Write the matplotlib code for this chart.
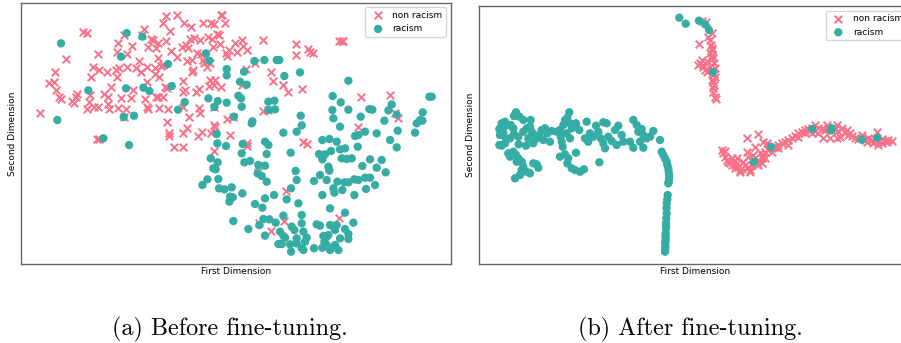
import matplotlib
matplotlib.use("Agg")
import matplotlib.pyplot as plt
import numpy as np

# t-SNE style embeddings (arbitrary units, y grows downward)
PINK = "#f77189"
TEAL = "#36ada4"

# (a) before fine-tuning
before_non_racism = np.array([
    (497, 47), (531, 44), (662, 44), (667, 44),
    (490, 70), (551, 68), (608, 70), (634, 70), (641, 72), (675, 70), (574, 82), (433, 88), (509, 93),
    (248, 97), (262, 99), (372, 105), (650, 101), (657, 105), (625, 110),
    (426, 106), (453, 117), (460, 121), (498, 122), (473, 128), (581, 114), (569, 116), (600, 120),
    (637, 118), (790, 120), (725, 120), (705, 128), (661, 132), (1018, 123), (1025, 122), (1030, 124), (355, 128),
    (887, 132), (925, 147), (730, 138), (740, 150), (686, 150), (640, 140), (545, 140), (557, 135), (565, 145),
    (512, 152), (467, 145), (444, 140), (397, 138), (294, 163), (352, 157), (382, 162), (591, 158), (604, 162),
    (710, 155), (677, 160), (682, 168), (940, 160), (930, 155), (887, 165),
    (197, 176), (418, 183), (474, 175), (562, 182), (577, 180), (609, 180), (613, 190), (484, 198), (489, 194),
    (442, 200), (531, 172), (280, 200), (296, 210), (321, 215), (347, 210), (356, 205), (380, 200), (408, 205),
    (422, 215), (466, 205), (580, 210), (577, 215), (620, 200), (630, 190), (738, 208), (765, 190), (813, 216), (166, 215),
    (273, 232), (351, 230), (466, 222), (477, 232), (440, 245), (548, 243), (630, 240), (645, 240), (628, 258),
    (662, 262), (642, 256), (820, 242), (848, 254), (863, 275), (905, 268), (148, 248), (163, 247), (500, 263),
    (496, 262), (555, 270), (548, 276), (596, 268), (588, 276), (400, 270), (334, 262), (168, 270), (727, 255),
    (177, 290), (184, 296), (230, 283), (227, 290), (270, 285), (311, 283), (325, 290), (364, 293), (392, 295),
    (436, 297), (468, 292), (475, 291), (490, 290), (216, 302), (223, 310), (268, 305), (1083, 290), (1171, 285),
    (260, 327), (283, 320), (293, 320), (323, 312), (328, 328), (353, 324), (378, 327), (441, 322), (445, 328),
    (476, 325), (505, 326), (549, 320), (598, 325), (599, 340), (643, 320), (805, 330), (788, 333), (1185, 338),
    (1195, 355), (120, 338),
    (372, 350), (500, 367), (568, 352), (682, 358), (700, 352), (560, 383), (548, 400), (507, 398), (507, 408),
    (607, 395), (595, 408), (633, 398), (643, 374), (646, 380), (1075, 382), (690, 405), (292, 417), (298, 416),
    (910, 425), (920, 432),
    (522, 441), (550, 441), (740, 430), (742, 437), (642, 453), (775, 498),
    (857, 572), (777, 668), (853, 662), (813, 692), (1018, 655),
])

before_racism = np.array([
    (183, 130), (380, 99), (427, 110), (363, 170), (504, 192), (618, 160), (628, 182), (680, 207), (680, 226),
    (265, 271), (378, 265), (430, 263), (448, 273), (515, 258), (554, 306), (534, 329), (625, 295), (653, 303),
    (680, 308), (643, 321), (702, 350), (172, 360), (371, 351), (402, 347),
    (763, 183), (793, 180), (830, 180), (838, 180), (732, 215), (853, 228), (900, 217), (1045, 242), (720, 245),
    (740, 254), (715, 287), (723, 295), (725, 320), (805, 305), (823, 302), (825, 328), (805, 330), (998, 288),
    (1022, 307), (997, 330), (1045, 329), (1108, 327), (1117, 329), (1165, 331), (1175, 313), (1288, 290),
    (1295, 290), (755, 370), (757, 364), (902, 347), (905, 376), (1000, 355), (1082, 350), (1153, 362),
    (1190, 344), (1268, 337), (1260, 360), (1267, 362), (1250, 370), (1020, 380),
    (850, 398), (890, 395), (728, 432), (795, 425), (805, 435), (800, 462), (725, 460), (733, 487), (750, 483),
    (775, 495), (795, 497), (773, 520), (785, 528), (800, 545), (872, 458), (887, 513), (890, 540), (942, 543),
    (960, 525), (980, 540), (988, 512), (985, 500), (967, 420), (988, 417), (1010, 425), (957, 462), (967, 465),
    (975, 463), (967, 478), (993, 453), (1020, 448), (1035, 445), (1025, 475), (1040, 477), (1055, 475),
    (1087, 498), (1073, 440), (1065, 408), (1075, 405), (1095, 395), (1130, 400), (1170, 420), (1193, 392),
    (1190, 442), (1245, 398), (1110, 478), (1145, 480), (1130, 503), (1157, 517), (1012, 545), (1033, 547),
    (1045, 547), (1063, 538), (1075, 540), (1095, 533), (1110, 533), (1125, 555), (1098, 567), (1063, 585),
    (1027, 570), (1000, 565), (1003, 578), (967, 585), (873, 565), (860, 598), (895, 610), (990, 625),
    (1035, 638), (1060, 668), (822, 585), (795, 595), (765, 612), (787, 623), (745, 687), (778, 675),
    (790, 657), (808, 658), (827, 668), (850, 647), (905, 645), (905, 670), (950, 673), (960, 677), (990, 675),
    (1000, 680), (1010, 675), (795, 707), (840, 695), (850, 708), (855, 713), (835, 732), (845, 732), (870, 733),
    (875, 680), (883, 690), (890, 715), (890, 730), (910, 695), (920, 713), (915, 725), (905, 745), (910, 750),
    (873, 755), (942, 745), (970, 708), (980, 710), (985, 705), (973, 725), (980, 735), (967, 743), (990, 750),
    (1005, 735), (1020, 715), (1005, 690), (1035, 687), (1045, 702), (1045, 717), (1015, 750), (727, 580),
    (310, 415), (387, 435), (650, 402), (652, 430), (678, 438), (632, 475), (653, 487), (640, 505), (647, 508),
    (622, 538), (655, 537), (607, 555), (657, 565), (673, 568), (695, 562), (690, 590), (698, 592), (688, 605),
    (700, 663),
])

# (b) after fine-tuning
after_non_racism = np.array([
    # upper strand
    (699.3, 44.3), (707.7, 36.7), (710, 40), (711, 45), (711.7, 50), (710, 53.3), (712.3, 55), (713.3, 58.3),
    (701.7, 60), (700, 63.3), (703.3, 65), (707.7, 61.7), (714.3, 63.3), (705, 70), (710, 66.7), (715, 76.7),
    (712.3, 80), (714, 85), (713.3, 88.3), (715, 96.7), (716, 99), (711.7, 33.3), (697.7, 65), (702.7, 66.7),
    (706.7, 71.7), (713.3, 81.7), (711.7, 48.3), (711, 56.7), (715, 68.3), (714.3, 74), (713.3, 91.7),
    (706, 22), (702, 21),
    # wave
    (721.7, 150), (723.3, 153.3), (725, 156.7), (726.7, 160), (728.3, 161.7), (730, 163.3), (731.7, 165),
    (735, 165), (738.3, 166.7), (740, 170), (741.7, 167.7), (745, 165), (746.7, 168.3), (748.3, 166.7),
    (750, 170), (751.7, 165), (753.3, 161.7), (756.7, 163.3), (758.3, 160), (761.7, 158.3), (760, 153.3),
    (763.3, 155), (765, 151.7), (768.3, 150), (771.7, 148.3), (775, 146.7), (778.3, 145), (781.7, 143.3),
    (785, 141.7), (788.3, 140), (791.7, 138.3), (795, 135.7), (798.3, 133.3), (801.7, 131.7), (805, 130),
    (808.3, 129), (811.7, 128.3), (815, 131), (818.3, 128.3), (821.7, 129), (825, 130), (828.3, 128.3),
    (831.7, 130), (835, 129), (838.3, 131), (841.7, 128.3), (823.3, 138.3), (830, 137.7), (836.7, 138.3),
    (840, 136.7), (845, 133.3), (848.3, 135), (851.7, 135.7), (855, 138.3), (858.3, 139), (861.7, 138.3),
    (865, 140), (868.3, 138.3), (871.7, 140), (875, 139), (878.3, 141.7), (881.7, 139), (885, 141),
    (888.3, 140), (891.7, 140.7), (876.7, 131.7), (878.3, 145), (746.7, 137.7), (758.3, 134.3), (747.3, 151.7),
    (755, 146.7), (763.3, 141.7), (766.7, 143.3), (725, 151), (731.7, 157.7), (735, 161), (736.7, 158.3),
    (743.3, 161.7), (748.3, 156.7), (753.3, 155), (758.3, 165), (788.3, 145), (778.3, 148.3), (771.7, 151.7),
    (765, 158.3), (761.7, 163.3), (740, 171.7), (750, 171.7), (735, 168.3), (798.3, 136.7), (805, 133.3),
    (815, 125), (811.7, 133.3), (818.3, 133.3), (826.7, 125), (833.3, 126.7), (836.7, 125), (846.7, 130),
    (850, 133.3), (861.7, 135), (866.7, 141.7), (873.3, 143.3), (881.7, 143.3), (886.7, 142.3),
])

after_racism = np.array([
    # upper arc
    (679.3, 17.7), (685.7, 23.7), (699, 20.7), (705, 24.3), (709, 30), (713, 72),
    # large cluster
    (516, 112.3), (519.3, 116.7), (514, 116), (523.3, 120), (530.7, 120), (505, 121.7), (501.7, 123.3),
    (499.3, 129), (503.3, 127.7), (507.3, 125), (510.7, 125), (513.3, 128.3), (500, 135), (503.3, 133.3),
    (506, 138.3), (499.3, 145), (501.7, 145.7), (505, 143.3), (510, 138.3), (514, 134.3), (518.3, 136.7),
    (523.3, 131.7), (526.7, 128.3), (530, 126.7), (531.7, 131.7), (534, 135), (528.3, 138.3), (533.3, 143.3),
    (536.7, 138.3), (539.3, 135), (541.7, 130), (545, 128.3), (547.3, 133.3), (551.7, 131), (556.7, 131.7),
    (550, 141.7), (543.3, 140), (560, 130), (563.3, 125), (565, 120), (569.3, 112.3), (567.3, 117.7),
    (570, 123.3), (571.7, 128.3), (576, 123.3), (579.3, 130), (566.7, 133.3), (560.7, 136.7), (561.7, 141.7),
    (570, 138.3), (562.7, 146.7), (560, 156.7), (565, 154.3), (568.3, 158.3), (576, 152.7), (567.3, 163.3),
    (571.7, 168.3), (580, 171.7), (584, 169.3), (575, 170), (586.7, 121.7), (585, 138.3), (588.3, 141.7),
    (590, 133.3), (593.3, 136.7), (596, 125.7), (598.3, 131.7), (603.3, 122.3), (606.7, 123.3), (600.7, 138.3),
    (603.3, 143.3), (605, 148.3), (608.3, 136.7), (611.7, 141), (615, 130), (618.3, 125.7), (621.7, 135),
    (623.3, 141.7), (616.7, 145), (630, 141.7), (633.3, 120), (636.7, 125), (638.3, 131.7), (641.7, 129),
    (643.3, 135), (640, 141.7), (646.7, 138.3), (650, 136.7), (653.3, 131), (660, 140), (633.3, 147.7),
    (643.3, 147.7), (599.3, 162.3), (513.3, 151.7), (516, 155), (518.3, 158.3), (521.7, 161.7), (523.3, 166.7),
    (521.7, 170), (526.7, 171.7), (530, 173.3), (520, 175), (515, 178.3), (516.7, 161.7), (536.7, 164.3),
    (538.3, 167.7), (533.3, 163.3), (526, 145.7), (518.7, 144.3), (508.3, 153.3), (510, 156.7),
    # vertical tail
    (661.7, 151.7), (663.3, 155), (665, 158.3), (666.7, 161.7), (667.3, 165), (668.3, 168.3), (668.7, 171.7),
    (669, 175), (669, 178.3), (668.7, 181.7), (668.3, 183.3), (667.7, 195), (667.3, 199.3), (666.7, 203.3),
    (666.5, 208), (666.7, 213.3), (666.3, 218.3), (666, 223.3), (666, 226), (666, 228.3), (665.7, 233.3),
    (665.5, 236), (665.7, 238.3), (665.5, 241), (665.3, 243.3), (665.3, 246.7), (665.2, 249), (665, 251.7),
    # points on the wave
    (754, 161.7), (771, 146.7), (812.3, 129), (831.7, 128.3), (831, 130.3), (861.7, 139.7), (877.3, 137.7),
])

fig = plt.figure(figsize=(9.01, 3.43), dpi=100)
ax_a = fig.add_axes([20.7 / 901, 1 - 264 / 343, 430 / 901, 261.3 / 343])
ax_b = fig.add_axes([479.3 / 901, 1 - 264 / 343, 431.7 / 901, 258 / 343])

panels = [
    (ax_a, before_non_racism, before_racism, (62, 1352), (792, 8)),
    (ax_b, after_non_racism, after_racism, (479.3, 911), (264, 6)),
]

for ax, non_rac, rac, xlim, ylim in panels:
    ax.scatter(non_rac[:, 0], non_rac[:, 1], marker="x", s=30, color=PINK,
               linewidths=1.4, label="non racism")
    ax.scatter(rac[:, 0], rac[:, 1], marker="o", s=36, color=TEAL,
               edgecolors="none", label="racism")
    ax.set_xlim(*xlim)
    ax.set_ylim(*ylim)
    ax.set_xticks([])
    ax.set_yticks([])
    ax.set_xlabel("First Dimension", fontsize=6.5, labelpad=2.5)
    ax.set_ylabel("Second Dimension", fontsize=6.5, labelpad=3)
    for sp in ax.spines.values():
        sp.set_color("0.4")
        sp.set_linewidth(1.0)
    ax.legend(loc="upper right", fontsize=6.5, handletextpad=0.6,
              borderaxespad=0.5, framealpha=0.8)

fig.text(230 / 901, 1 - 329 / 343, "(a) Before fine-tuning.", family="cmr10",
         fontsize=17.4, ha="center", va="center")
fig.text(690 / 901, 1 - 329 / 343, "(b) After fine-tuning.", family="cmr10",
         fontsize=17.4, ha="center", va="center")

fig.savefig("out.png", dpi=100)
